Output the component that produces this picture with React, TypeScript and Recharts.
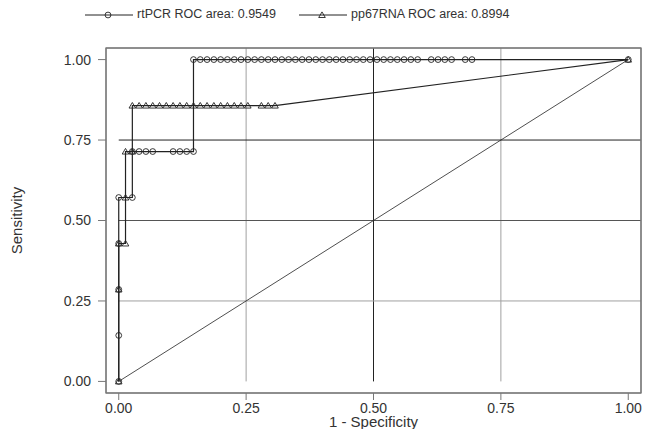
import { ComposedChart, Scatter, XAxis, YAxis, ReferenceLine } from 'recharts'

// rtPCR ROC curve (1 - specificity, sensitivity)
const rtpcrFpr = [
  0, 0, 0, 0, 0, 0.0267, 0.0267, 0.04, 0.0533, 0.0667, 0.1067, 0.12, 0.1333, 0.1467,
  0.1467, 0.16, 0.1733, 0.1867, 0.2, 0.2133, 0.2267, 0.24, 0.2533, 0.2667, 0.28, 0.2933,
  0.3067, 0.32, 0.3333, 0.3467, 0.36, 0.3733, 0.3867, 0.4, 0.4133, 0.4267, 0.44, 0.4533,
  0.4667, 0.48, 0.4933, 0.5067, 0.52, 0.5333, 0.5467, 0.56, 0.5733, 0.5867,
  0.6133, 0.6267, 0.64, 0.6533, 0.68, 0.6933, 1,
]
const rtpcrSens = [
  0, 0.1429, 0.2857, 0.4286, 0.5714, 0.5714, 0.7143, 0.7143, 0.7143, 0.7143, 0.7143, 0.7143, 0.7143, 0.7143,
  1, 1, 1, 1, 1, 1, 1, 1, 1, 1, 1, 1,
  1, 1, 1, 1, 1, 1, 1, 1, 1, 1, 1, 1,
  1, 1, 1, 1, 1, 1, 1, 1, 1, 1,
  1, 1, 1, 1, 1, 1, 1,
]

// pp67RNA ROC curve
const ppFpr = [
  0, 0, 0, 0.0133, 0.0133, 0.0133, 0.0267, 0.0267, 0.04, 0.0533, 0.0667, 0.08, 0.0933,
  0.1067, 0.12, 0.1333, 0.1467, 0.16, 0.1733, 0.1867, 0.2, 0.2133, 0.2267, 0.24, 0.2533,
  0.28, 0.2933, 0.3067, 1,
]
const ppSens = [
  0, 0.2857, 0.4286, 0.4286, 0.5714, 0.7143, 0.7143, 0.8571, 0.8571, 0.8571, 0.8571, 0.8571, 0.8571,
  0.8571, 0.8571, 0.8571, 0.8571, 0.8571, 0.8571, 0.8571, 0.8571, 0.8571, 0.8571, 0.8571, 0.8571,
  0.8571, 0.8571, 0.8571, 1,
]

const axisTicks = [0, 0.25, 0.5, 0.75, 1]
const gridLevels = [0.25, 0.5, 0.75]
const legendLabels = ['rtPCR ROC area: 0.9549', 'pp67RNA ROC area: 0.8994']

const rtpcr = rtpcrFpr.map((x, i) => ({ x, y: rtpcrSens[i] }))
const pp67 = ppFpr.map((x, i) => ({ x, y: ppSens[i] }))

const X_DOMAIN: [number, number] = [-0.025, 1.025]
const Y_DOMAIN: [number, number] = [-0.036, 1.036]
const INK = '#222'
const FRAME = '#777'
const FONT = '"Liberation Sans", Arial, sans-serif'
// plot box (chart margins + axis sizes below)
const PLOT = { left: 106, top: 48, width: 535, height: 345 }

const vGridColor: Record<number, string> = { 0.25: '#a0a0a0', 0.5: '#222', 0.75: '#a0a0a0' }
const hGridColor: Record<number, string> = { 0.25: '#a0a0a0', 0.5: '#555', 0.75: '#222' }

function CircleMark(props: any) {
  const { cx, cy } = props
  if (cx == null || cy == null) return null
  return <circle cx={cx} cy={cy} r={2.9} fill="none" stroke={INK} strokeWidth={0.9} />
}

function TriangleMark(props: any) {
  const { cx, cy } = props
  if (cx == null || cy == null) return null
  const pts = `${cx - 3.3},${cy + 2.5} ${cx + 3.3},${cy + 2.5} ${cx},${cy - 3.1}`
  return <polygon points={pts} fill="none" stroke={INK} strokeWidth={0.9} />
}

function LegendKey({ left, marker, label }: { left: number; marker: 'circle' | 'triangle'; label: string }) {
  return (
    <div style={{ position: 'absolute', left, top: 5, display: 'flex', alignItems: 'center' }}>
      <svg width={50} height={18}>
        <line x1={0} y1={10} x2={48} y2={10} stroke={INK} strokeWidth={1} />
        {marker === 'circle' ? <CircleMark cx={23} cy={10} /> : <TriangleMark cx={23} cy={10} />}
      </svg>
      <span style={{ fontFamily: FONT, fontSize: 12.5, color: '#333', marginLeft: 2, whiteSpace: 'nowrap' }}>{label}</span>
    </div>
  )
}

export default function App() {
  return (
    <div style={{ position: 'absolute', left: 0, top: 0, width: 650, height: 429, background: '#fff' }}>
      <LegendKey left={85} marker="circle" label={legendLabels[0]} />
      <LegendKey left={299} marker="triangle" label={legendLabels[1]} />
      <ComposedChart width={650} height={429} margin={{ top: 0, right: 0, bottom: 0, left: 0 }}>
        <XAxis
          dataKey="x"
          type="number"
          domain={X_DOMAIN}
          allowDataOverflow
          ticks={axisTicks}
          tickFormatter={(v: number) => v.toFixed(2)}
          height={36}
          tickSize={7}
          tickMargin={3}
          stroke={FRAME}
          tick={{ fill: '#333', fontSize: 14, fontFamily: FONT }}
          label={{ value: '1 - Specificity', position: 'insideBottom', offset: 2, fill: '#333', fontSize: 15, fontFamily: FONT }}
        />
        <XAxis
          xAxisId="top"
          orientation="top"
          dataKey="x"
          type="number"
          domain={X_DOMAIN}
          allowDataOverflow
          ticks={axisTicks}
          height={48}
          tickSize={7}
          stroke={FRAME}
          tick={false}
        />
        <YAxis
          dataKey="y"
          type="number"
          domain={Y_DOMAIN}
          allowDataOverflow
          ticks={axisTicks}
          tickFormatter={(v: number) => v.toFixed(2)}
          width={106}
          tickSize={8}
          tickMargin={7}
          stroke={FRAME}
          tick={{ fill: '#333', fontSize: 14, fontFamily: FONT }}
          label={{
            value: 'Sensitivity',
            angle: -90,
            position: 'insideLeft',
            offset: 17,
            fill: '#333',
            fontSize: 15,
            fontFamily: FONT,
            style: { textAnchor: 'middle' },
          }}
        />
        <YAxis
          yAxisId="right"
          orientation="right"
          dataKey="y"
          type="number"
          domain={Y_DOMAIN}
          allowDataOverflow
          ticks={axisTicks}
          width={9}
          tickSize={5}
          stroke={FRAME}
          tick={false}
        />
        {gridLevels.map((v) => (
          <ReferenceLine
            key={`v${v}`}
            segment={[{ x: v, y: 0 }, { x: v, y: Y_DOMAIN[1] }]}
            stroke={vGridColor[v]}
            strokeWidth={1}
            ifOverflow="visible"
          />
        ))}
        {gridLevels.map((v) => (
          <ReferenceLine
            key={`h${v}`}
            segment={[{ x: 0, y: v }, { x: X_DOMAIN[1], y: v }]}
            stroke={hGridColor[v]}
            strokeWidth={1}
            ifOverflow="visible"
          />
        ))}
        <ReferenceLine segment={[{ x: 0, y: 0 }, { x: 1, y: 1 }]} stroke={INK} strokeWidth={0.8} ifOverflow="visible" />
        <Scatter
          data={rtpcr}
          line={{ stroke: INK, strokeWidth: 1.2 }}
          lineType="joint"
          shape={<CircleMark />}
          isAnimationActive={false}
        />
        {/* drawn against the mirrored top/right axes (identical domains) */}
        <Scatter
          data={pp67}
          xAxisId="top"
          yAxisId="right"
          line={{ stroke: INK, strokeWidth: 1.2 }}
          lineType="joint"
          shape={<TriangleMark />}
          isAnimationActive={false}
        />
      </ComposedChart>
      {/* plot frame */}
      <svg width={650} height={429} style={{ position: 'absolute', left: 0, top: 0, pointerEvents: 'none' }}>
        <rect
          x={PLOT.left}
          y={PLOT.top}
          width={PLOT.width}
          height={PLOT.height}
          fill="none"
          stroke={FRAME}
          strokeWidth={1.3}
        />
      </svg>
    </div>
  )
}
